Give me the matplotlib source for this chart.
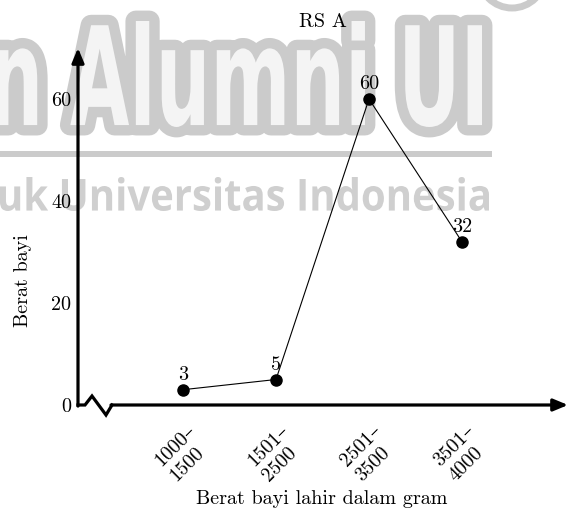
import matplotlib
matplotlib.use("Agg")
import matplotlib.pyplot as plt
from matplotlib.textpath import TextPath
from matplotlib.patches import PathPatch, Rectangle, Ellipse
from matplotlib.font_manager import FontProperties
from matplotlib.transforms import Affine2D
from matplotlib.lines import Line2D

# data
categories = ["1000–\n1500", "1501–\n2500", "2501–\n3500", "3501–\n4000"]
values = [3, 5, 60, 32]
yticks = [0, 20, 40, 60]
title = "RS A"
xlabel = "Berat bayi lahir dalam gram"
ylabel = "Berat bayi"

W, H = 573, 516

plt.rcParams["font.family"] = ["cmr10", "DejaVu Serif"]
plt.rcParams["font.size"] = 14.5

fig = plt.figure(figsize=(W / 100, H / 100), dpi=100)


def watermark(text, family, weight, box, face, edge=None, lw=0):
    # box in image pixels: left, top, right, bottom
    x0, y0, x1, y1 = box
    tp = TextPath((0, 0), text, size=100, prop=FontProperties(family=family, weight=weight))
    bb = tp.get_extents()
    tr = (Affine2D()
          .translate(-bb.x0, -bb.y0)
          .scale((x1 - x0) / bb.width / W, (y1 - y0) / bb.height / H)
          .translate(x0 / W, 1 - y1 / H)) + fig.transFigure
    if edge is not None:
        fig.patches.append(PathPatch(tp, transform=tr, fc=edge, ec=edge, lw=lw,
                                     joinstyle="round", zorder=-3))
    fig.patches.append(PathPatch(tp, transform=tr, fc=face, ec="none", zorder=-2))


# background watermark
watermark("n Alumni UI", "DejaVu Sans", "bold", (-5, 21, 482, 127),
          face="#f4f4f4", edge="#cbcbcb", lw=15)
fig.patches.append(Rectangle((0, 1 - 157 / H), 492 / W, 6 / H, transform=fig.transFigure,
                             fc="#cbcbcb", ec="none", zorder=-3))
watermark("uk Universitas Indonesia", "Open Sans", "bold", (0, 177, 489, 211),
          face="#cfcfcf")
fig.patches.append(Ellipse((512 / W, 1 + 25 / H), 66 / W, 66 / H, transform=fig.transFigure,
                           fill=False, ec="#cbcbcb", lw=5, zorder=-3))

# axes: origin at the y axis / x axis crossing
ax = fig.add_axes([78 / W, 1 - 405 / H, 490 / W, 357 / H])
ax.patch.set_visible(False)
for s in ax.spines.values():
    s.set_visible(False)

x = list(range(len(categories)))
ax.set_xlim(-105 / 93, -105 / 93 + 490 / 93)
ax.set_ylim(0, 357 / 5.1)

ax.plot(x, values, color="black", lw=0.8, marker="o", ms=8, zorder=3)
for xi, v in zip(x, values):
    ax.annotate(str(v), (xi, v), xytext=(0, 4), textcoords="offset points",
                ha="center", va="bottom")

ax.set_xticks(x, categories, rotation=45, ha="center", va="top", multialignment="left")
ax.tick_params(axis="x", length=0, pad=12)
ax.set_yticks(yticks, [str(t) for t in yticks])
ax.tick_params(axis="y", length=0, pad=5)

# y axis arrow
ax.annotate("", xy=(0, 1), xytext=(0, -0.003), xycoords="axes fraction",
            arrowprops=dict(arrowstyle="-|>,head_length=0.6,head_width=0.25",
                            lw=2.3, color="black", shrinkA=0, shrinkB=0))
# x axis with break mark, then arrow
zx = [0, 7, 14, 28, 34]
zy = [0, 0, 9, -10, 0]
ax.add_line(Line2D([p / 490 for p in zx], [q / 357 for q in zy], transform=ax.transAxes,
                   color="black", lw=2.3, solid_joinstyle="miter", clip_on=False))
ax.annotate("", xy=(1, 0), xytext=(33 / 490, 0), xycoords="axes fraction",
            arrowprops=dict(arrowstyle="-|>,head_length=0.6,head_width=0.25",
                            lw=2.3, color="black", shrinkA=0, shrinkB=0))

fig.text(323 / W, 1 - 22 / H, title, ha="center", va="center")
fig.text(322 / W, 1 - 499 / H, xlabel, ha="center", va="center")
fig.text(23 / W, 1 - 281 / H, ylabel, ha="center", va="center", rotation=90)

fig.savefig("out.png", dpi=100)
